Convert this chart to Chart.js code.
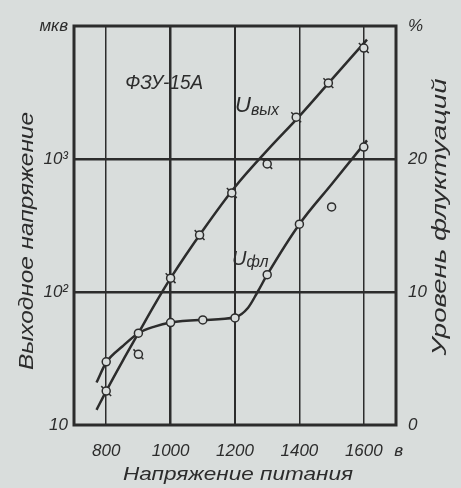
<!DOCTYPE html>
<html>
<head>
<meta charset="utf-8">
<script src="https://cdn.jsdelivr.net/npm/chart.js@4.4.1/dist/chart.umd.min.js"></script>
<style>
  html, body { margin: 0; padding: 0; background: #d9dddc; }
  #wrap { width: 461px; height: 488px; }
</style>
</head>
<body>
<div id="wrap"><canvas id="c" width="461" height="488"></canvas></div>
<script>
// ---- data ----
const xTicks = [800, 1000, 1200, 1400, 1600];
const xTickLabels = ['800', '1000', '1200', '1400', '1600'];
const yTicks = [10, 100, 1000, 10000];
const yTickLabels = ['10', '10²', '10³', 'мкв'];
const y2Ticks = [0, 10, 20, 30];
const y2TickLabels = ['0', '10', '20', '%'];

// U вых (output voltage, mkV, log axis) — smooth curve
const uOutCurveX = [770, 800, 850, 900, 950, 1000, 1100, 1200, 1300, 1400, 1500, 1610];
const uOutCurveY = [13, 18, 30, 49, 80, 127, 290, 616, 1160, 2100, 3950, 7900];
// U вых measured points
const uOutPtsX = [800, 900, 1000, 1090, 1190, 1300, 1390, 1490, 1600];
const uOutPtsY = [18, 34, 127, 268, 556, 918, 2060, 3720, 6830];

// U фл (fluctuation level, %) — smooth curve
const uFlCurveX = [770, 800, 850, 900, 950, 1000, 1100, 1200, 1240, 1270, 1300, 1400, 1500, 1610];
const uFlCurveY = [3.2, 4.7, 5.9, 6.9, 7.4, 7.7, 7.9, 8.1, 8.8, 10.0, 11.3, 15.1, 18.1, 21.4];
// U фл measured points
const uFlPtsX = [800, 900, 1000, 1100, 1200, 1300, 1400, 1500, 1600];
const uFlPtsY = [4.75, 6.9, 7.7, 7.9, 8.05, 11.3, 15.1, 16.4, 20.9];

const titleX = 'Напряжение питания';
const titleY = 'Выходное напряжение';
const titleY2 = 'Уровень флуктуаций';
const xUnit = 'в';
const tubeLabel = 'ФЗУ-15А';

// ---- style ----
const BG = '#d9dddc';
const INK = '#2c2c2c';
const FONT = '"Liberation Sans", Arial, sans-serif';

const pts = (xs, ys) => xs.map((x, i) => ({ x: x, y: ys[i] }));

function fitText(ctx, text, cx, cy, width, rot, font) {
  ctx.save();
  ctx.font = font;
  const w = ctx.measureText(text).width;
  ctx.translate(cx, cy);
  ctx.rotate(rot);
  ctx.scale(width / w, 1);
  ctx.textAlign = 'center';
  ctx.textBaseline = 'middle';
  ctx.fillText(text, 0, 0);
  ctx.restore();
}

const decor = {
  id: 'decor',
  beforeDraw(chart) {
    const ctx = chart.ctx;
    ctx.save();
    ctx.fillStyle = BG;
    ctx.fillRect(0, 0, chart.width, chart.height);
    ctx.restore();
  },
  afterDraw(chart) {
    const ctx = chart.ctx;
    const a = chart.chartArea;
    const sx = chart.scales.x, sy = chart.scales.y;
    ctx.save();
    // frame
    ctx.strokeStyle = INK;
    ctx.lineWidth = 3;
    ctx.strokeRect(a.left, a.top, a.right - a.left, a.bottom - a.top);
    ctx.fillStyle = INK;
    // axis titles
    fitText(ctx, titleX, 238, 475, 230, 0, 'italic 19px ' + FONT);
    fitText(ctx, titleY, 27, 241, 258, -Math.PI / 2, 'italic 21px ' + FONT);
    fitText(ctx, titleY2, 440, 217, 277, -Math.PI / 2, 'italic 21px ' + FONT);
    // unit after 1600
    ctx.font = 'italic 17px ' + FONT;
    ctx.textAlign = 'center';
    ctx.textBaseline = 'middle';
    ctx.fillText(xUnit, sx.getPixelForValue(1600) + 35, 451);
    // tube label
    fitText(ctx, tubeLabel, sx.getPixelForValue(980), sy.getPixelForValue(3725), 78, 0, 'italic 20px ' + FONT);
    // U вых
    ctx.textAlign = 'left';
    ctx.textBaseline = 'alphabetic';
    let px = sx.getPixelForValue(1200), py = sy.getPixelForValue(2250);
    ctx.font = 'italic 22px ' + FONT;
    ctx.fillText('U', px, py);
    let uw = ctx.measureText('U').width;
    ctx.font = 'italic 16px ' + FONT;
    ctx.fillText('вых', px + uw, py + 3);
    // U фл
    px = sx.getPixelForValue(1191); py = sy.getPixelForValue(160);
    ctx.font = 'italic 20px ' + FONT;
    ctx.fillText('U', px, py);
    uw = ctx.measureText('U').width;
    ctx.font = 'italic 16px ' + FONT;
    ctx.fillText('фл', px + uw, py + 2);
    ctx.restore();
  }
};

const tickFont = { family: FONT, size: 17, style: 'italic' };

new Chart(document.getElementById('c'), {
  type: 'line',
  data: {
    datasets: [
      {
        label: 'U вых точки',
        type: 'scatter',
        data: pts(uOutPtsX, uOutPtsY),
        yAxisID: 'y',
        pointStyle: 'circle',
        pointRadius: 4,
        pointBackgroundColor: BG,
        pointBorderColor: INK,
        pointBorderWidth: 1.5,
        order: 0
      },
      {
        label: 'U вых штрихи',
        type: 'scatter',
        data: pts(uOutPtsX, uOutPtsY),
        yAxisID: 'y',
        pointStyle: 'line',
        pointRotation: 45,
        pointRadius: 7,
        pointBorderColor: INK,
        pointBorderWidth: 1.5,
        order: 1
      },
      {
        label: 'U фл точки',
        type: 'scatter',
        data: pts(uFlPtsX, uFlPtsY),
        yAxisID: 'y2',
        pointStyle: 'circle',
        pointRadius: 4,
        pointBackgroundColor: BG,
        pointBorderColor: INK,
        pointBorderWidth: 1.5,
        order: 0
      },
      {
        label: 'U вых',
        data: pts(uOutCurveX, uOutCurveY),
        yAxisID: 'y',
        borderColor: INK,
        borderWidth: 2.5,
        pointRadius: 0,
        cubicInterpolationMode: 'monotone',
        fill: false,
        order: 3
      },
      {
        label: 'U фл',
        data: pts(uFlCurveX, uFlCurveY),
        yAxisID: 'y2',
        borderColor: INK,
        borderWidth: 2.5,
        pointRadius: 0,
        cubicInterpolationMode: 'monotone',
        fill: false,
        order: 3
      }
    ]
  },
  options: {
    responsive: false,
    animation: false,
    devicePixelRatio: 1,
    layout: { padding: { top: 26, left: 0, right: 0, bottom: 0 } },
    plugins: { legend: { display: false }, tooltip: { enabled: false }, title: { display: false } },
    scales: {
      x: {
        type: 'linear',
        position: 'bottom',
        min: 700, max: 1700,
        afterBuildTicks: s => { s.ticks = xTicks.map(v => ({ value: v })); },
        afterFit: s => { s.height = 63; },
        ticks: {
          color: INK, font: tickFont, padding: 16, maxRotation: 0, autoSkip: false,
          callback: v => { const i = xTicks.indexOf(v); return i >= 0 ? xTickLabels[i] : ''; }
        },
        grid: {
          drawTicks: false,
          color: INK,
          lineWidth: c => (c.tick && c.tick.value === 1000) ? 2.5 : (c.tick && c.tick.value === 1200 ? 2 : 1.5)
        },
        border: { display: false }
      },
      y: {
        type: 'logarithmic',
        position: 'left',
        min: 10, max: 10000,
        afterBuildTicks: s => { s.ticks = yTicks.map(v => ({ value: v })); },
        afterFit: s => { s.width = 74; },
        ticks: {
          color: INK, font: tickFont, padding: 6, autoSkip: false,
          callback: v => { const i = yTicks.indexOf(v); return i >= 0 ? yTickLabels[i] : ''; }
        },
        grid: {
          drawTicks: false,
          lineWidth: 2.5,
          color: c => (c.tick && (c.tick.value === 100 || c.tick.value === 1000)) ? INK : 'rgba(0,0,0,0)'
        },
        border: { display: false }
      },
      y2: {
        type: 'linear',
        position: 'right',
        min: 0, max: 30,
        afterBuildTicks: s => { s.ticks = y2Ticks.map(v => ({ value: v })); },
        afterFit: s => { s.width = 65; },
        ticks: {
          color: INK, font: tickFont, padding: 12, autoSkip: false,
          callback: v => { const i = y2Ticks.indexOf(v); return i >= 0 ? y2TickLabels[i] : ''; }
        },
        grid: { display: false, drawTicks: false },
        border: { display: false }
      }
    }
  },
  plugins: [decor]
});
</script>
</body>
</html>
